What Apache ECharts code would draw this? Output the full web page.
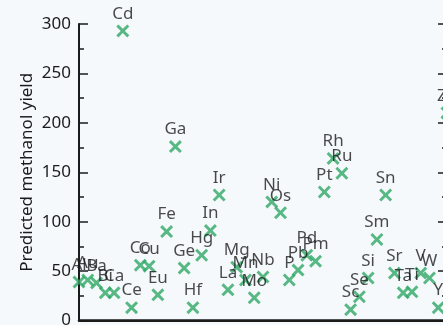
<!DOCTYPE html>
<html><head><meta charset="utf-8">
<script src="https://cdn.jsdelivr.net/npm/echarts@6/dist/echarts.min.js"></script>
<style>html,body{margin:0;padding:0;background:#f5f9fc;overflow:hidden}#c{width:443px;height:325px}</style>
</head><body><div id="c"></div>
<script>
const elements = ['Al','Au','Ba','Bi','Ca','Cd','Ce','Co','Cu','Eu','Fe','Ga','Ge','Hf','Hg','In','Ir','La','Mg','Mn','Mo','Nb','Ni','Os','P','Pb','Pd','Pm','Pt','Rh','Ru','Sc','Se','Si','Sm','Sn','Sr','Ta','Ti','V','W','Y','Zn'];
const yields = [39,41,38,28,28,293,13,56,55,26,90,176,53,13,66,91,127,31,54,41,23,44,120,109,41,51,66,60,130,164,149,11,24,43,82,127,48,28,29,48,43,13,210];
const yTickLabels = ['0','50','100','150','200','250','300'];
const yTitle = 'Predicted methanol yield';

const FONT = 'Noto Sans';
const INK = '#1b1b1b';
const GREEN = '#30a865';
const CROSS = 'path://M0,1.6L1.6,0L5,3.4L8.4,0L10,1.6L6.6,5L10,8.4L8.4,10L5,6.6L1.6,10L0,8.4L3.4,5Z';

const chart = echarts.init(document.getElementById('c'), null, {renderer: 'canvas'});
chart.setOption({
  backgroundColor: '#f5f9fc',
  animation: false,
  grid: {left: 79, top: 24, width: 368, height: 296.5, containLabel: false, outerBoundsMode: 'none'},
  xAxis: [{
    type: 'category', data: elements, boundaryGap: false,
    axisLine: {show: true, lineStyle: {color: INK, width: 2.5}},
    axisTick: {show: false}, axisLabel: {show: false}, splitLine: {show: false}
  }, {
    type: 'category', data: elements, boundaryGap: false, position: 'top',
    axisLine: {show: true, lineStyle: {color: INK, width: 2}},
    axisTick: {show: false}, axisLabel: {show: false}, splitLine: {show: false}
  }],
  yAxis: [{
    type: 'value', min: 0, max: 300, interval: 50, position: 'left',
    name: yTitle, nameLocation: 'middle', nameGap: 43, nameMoveOverlap: false,
    nameTextStyle: {fontFamily: FONT, fontSize: 17, color: INK},
    axisLine: {show: true, lineStyle: {color: INK, width: 2}},
    axisTick: {show: true, inside: true, length: 9, lineStyle: {color: INK, width: 1.5}},
    minorTick: {show: true, splitNumber: 2, length: 5, lineStyle: {color: INK, width: 1.5}},
    axisLabel: {fontFamily: FONT, fontSize: 17, color: INK, margin: 8,
      formatter: v => yTickLabels[Math.round(v / 50)] ?? ''},
    splitLine: {show: false}
  }, {
    type: 'value', min: 0, max: 300, interval: 50, position: 'right',
    axisLine: {show: true, lineStyle: {color: INK, width: 2}},
    axisTick: {show: true, inside: true, length: 9, lineStyle: {color: INK, width: 1.5}},
    minorTick: {show: true, splitNumber: 2, length: 5, lineStyle: {color: INK, width: 1.5}},
    axisLabel: {show: false}, splitLine: {show: false}
  }],
  series: [{
    type: 'scatter',
    xAxisIndex: 0, yAxisIndex: 0,
    data: yields,
    symbol: CROSS, symbolSize: 13,
    itemStyle: {color: GREEN},
    clip: false,
    label: {show: true, position: 'top', distance: 2, formatter: '{b}',
      fontFamily: FONT, fontSize: 17, color: INK},
    labelLayout: {hideOverlap: false}
  }]
});
</script></body></html>
